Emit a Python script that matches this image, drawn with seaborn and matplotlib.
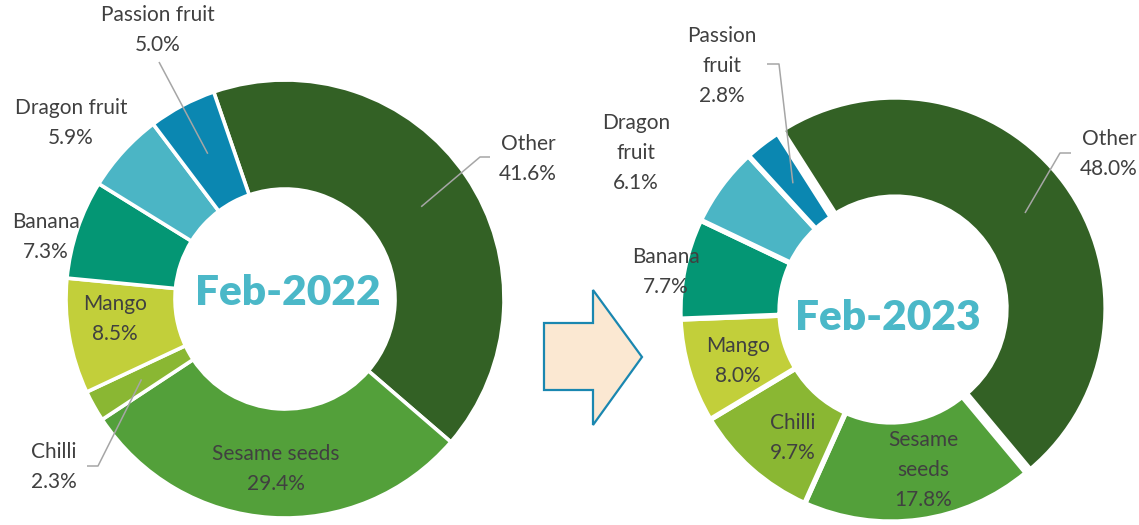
import matplotlib
matplotlib.use("Agg")
import matplotlib.pyplot as plt
import seaborn as sns
from matplotlib.patches import Polygon
import numpy as np

# ---------------- data ----------------
categories = ["Other", "Sesame seeds", "Chilli", "Mango", "Banana", "Dragon fruit", "Passion fruit"]
share_2022 = [41.6, 29.4, 2.3, 8.5, 7.3, 5.9, 5.0]
share_2023 = [48.0, 17.8, 9.7, 8.0, 7.7, 6.1, 2.8]
labels_2022 = ["Other", "Sesame seeds", "Chilli", "Mango", "Banana", "Dragon fruit", "Passion fruit"]
labels_2023 = ["Other", "Sesame\nseeds", "Chilli", "Mango", "Banana", "Dragon\nfruit", "Passion\nfruit"]
titles = ["Feb-2022", "Feb-2023"]

# ---------------- style ----------------
sns.set_theme(style="white")
plt.rcParams['font.family'] = ['Lato', 'DejaVu Sans']
palette = sns.color_palette(["#336125", "#53A03A", "#8AB733", "#C2CF3A",
                             "#049674", "#4BB5C5", "#0B87B1"])
TXT = "#404040"
W, H = 1139, 525

fig = plt.figure(figsize=(W / 100, H / 100), dpi=100)
ax = fig.add_axes([0, 0, 1, 1])

def Y(y):
    return H - y

# chart geometry (pixel layout)
charts = [
    dict(values=share_2022, labels=labels_2022, center=(285, Y(299)), R=219, width=109,
         start=109, lw=2.6, explode=[0, 0, 0, 0, 0, 0, 0], title=titles[0],
         title_pos=(288, Y(293)),
         label_pos=[(528, Y(159)), (276, Y(469)), (54, Y(467)), (115, Y(319)),
                    (46, Y(237)), (71, Y(123)), (158, Y(30))],
         leaders={0: [(490, Y(157)), (480, Y(157))],
                  2: [(87, Y(466)), (98, Y(466))],
                  6: [(159, Y(62))]}),
    dict(values=share_2023, labels=labels_2023, center=(891, Y(311)), R=211, width=100,
         start=122.5, lw=3.8, explode=[5, 0, 0, 0, 0, 0, 0], title=titles[1],
         title_pos=(888, Y(318)),
         label_pos=[(1109, Y(154)), (923, Y(470)), (793, Y(438)), (738, Y(361)),
                    (666, Y(272)), (636, Y(153)), (722, Y(66))],
         leaders={0: [(1071, Y(153)), (1060, Y(153))],
                  6: [(767, Y(64)), (779, Y(64))]}),
]

for c in charts:
    wedges, _ = ax.pie(c["values"], radius=c["R"], center=c["center"],
                       startangle=c["start"], counterclock=False,
                       colors=palette, explode=c["explode"],
                       wedgeprops=dict(width=c["width"], edgecolor="white",
                                       linewidth=c["lw"]))
    rmid = c["R"] - c["width"] / 2
    for i, (w, lab, val) in enumerate(zip(wedges, c["labels"], c["values"])):
        lx, ly = c["label_pos"][i]
        ax.text(lx, ly, f"{lab}\n{val:.1f}%", ha="center", va="center",
                fontsize=15, color=TXT, linespacing=1.62, multialignment="center")
        if i in c["leaders"]:
            mid = np.deg2rad((w.theta1 + w.theta2) / 2)
            wx, wy = w.center
            end = (wx + rmid * np.cos(mid), wy + rmid * np.sin(mid))
            pts = c["leaders"][i] + [end]
            xs, ys = zip(*pts)
            ax.plot(xs, ys, color="#A6A6A6", lw=1.1, solid_capstyle="butt")
    ax.text(*c["title_pos"], c["title"], ha="center", va="center",
            fontsize=30.5, fontweight="heavy", color="#4BB8C8")

# block arrow between the charts
arrow = Polygon([(544, Y(323)), (593, Y(323)), (593, Y(290)), (642, Y(357)),
                 (593, Y(425)), (593, Y(390)), (544, Y(390))], closed=True,
                facecolor="#FBE8D2", edgecolor="#1A87B0", linewidth=1.6)
ax.add_patch(arrow)

ax.set_xlim(0, W)
ax.set_ylim(0, H)
ax.set_aspect("auto")
ax.axis("off")

fig.savefig("out.png", dpi=100)
